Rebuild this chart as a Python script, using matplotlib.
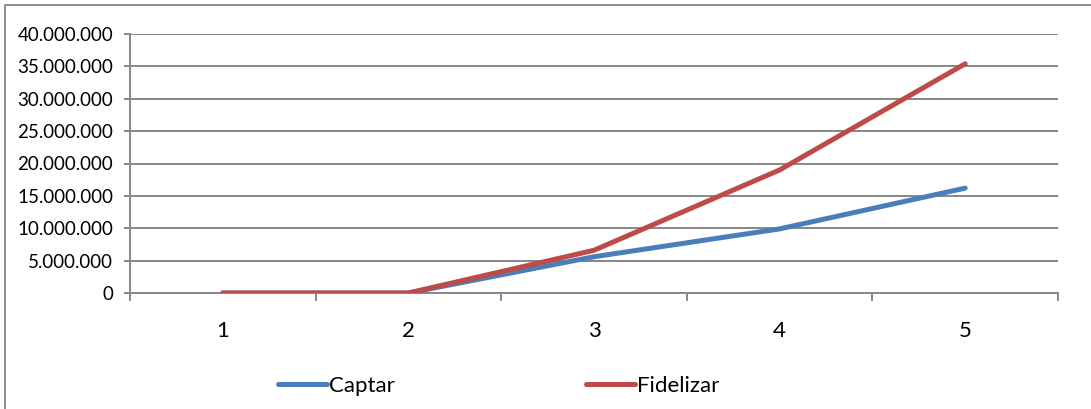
import matplotlib.pyplot as plt
from matplotlib.patches import Rectangle
from matplotlib.ticker import FuncFormatter, FixedLocator

periods = [1, 2, 3, 4, 5]
captar = [0, 0, 5_600_000, 9_900_000, 16_200_000]
fidelizar = [0, 0, 6_600_000, 19_000_000, 35_400_000]

BLUE = "#4A7EBB"
RED = "#BE4B48"
GRID = "#878787"

plt.rcParams["font.family"] = ["Lato", "DejaVu Sans"]

W, H = 1091, 409
fig = plt.figure(figsize=(W / 100, H / 100), dpi=100)
ax = fig.add_axes([130 / W, 1 - 293 / H, (1058 - 130) / W, (293 - 34) / H])

ax.plot(periods, captar, color=BLUE, lw=3.6, solid_capstyle="round",
        solid_joinstyle="round", label="Captar", zorder=3)
ax.plot(periods, fidelizar, color=RED, lw=3.6, solid_capstyle="round",
        solid_joinstyle="round", label="Fidelizar", zorder=4)

ax.set_xlim(0.5, 5.5)
ax.set_ylim(0, 40_000_000)
ax.set_yticks(range(0, 40_000_001, 5_000_000))
ax.yaxis.set_major_formatter(FuncFormatter(lambda v, _: f"{int(v):,}".replace(",", ".")))
ax.grid(axis="y", color=GRID, lw=1.4)
ax.set_axisbelow(True)

ax.set_xticks(periods)
ax.xaxis.set_minor_locator(FixedLocator([0.5, 1.5, 2.5, 3.5, 4.5, 5.5]))
ax.tick_params(axis="x", which="major", length=0, pad=20, labelsize=16)
ax.tick_params(axis="x", which="minor", length=6, width=1.4, color=GRID, direction="out")
ax.tick_params(axis="y", length=4, width=1.4, color=GRID, pad=8, labelsize=13.5)

for side in ("top", "right"):
    ax.spines[side].set_visible(False)
for side in ("left", "bottom"):
    ax.spines[side].set_color(GRID)
    ax.spines[side].set_linewidth(1.4)

fig.legend(loc="center", bbox_to_anchor=(0.457, 1 - 386 / H), ncol=2, frameon=False,
           fontsize=16, handlelength=2.2, handletextpad=0.1, columnspacing=8.6)

# outer chart border (only top and left edges fall inside the canvas)
fig.patches.append(Rectangle((5 / W, -0.1), 1.2, 1 - 5 / H + 0.1, transform=fig.transFigure,
                             fill=False, edgecolor="#8C8C8C", lw=1.4))

fig.savefig("out.png", dpi=100)
